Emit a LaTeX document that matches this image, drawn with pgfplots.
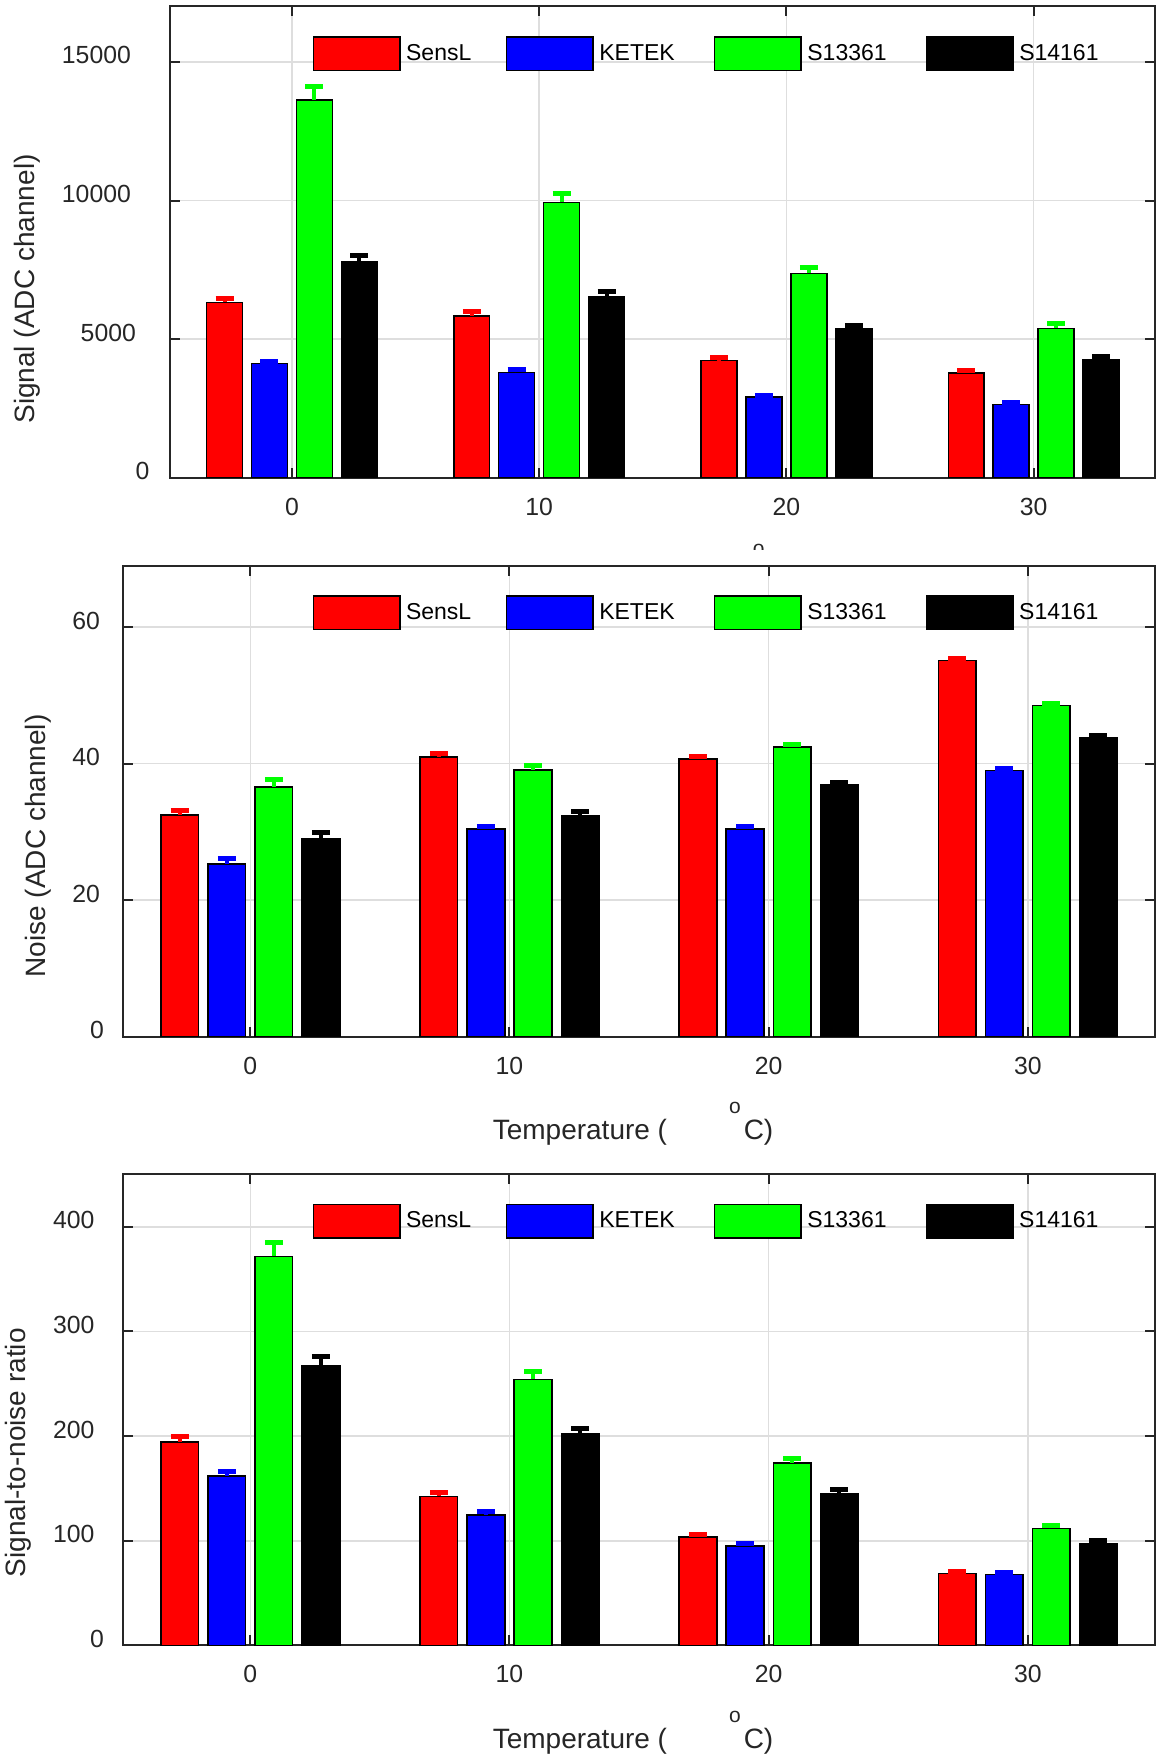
\documentclass[border=0pt]{standalone}
\usepackage{fontspec}
\setmainfont{Liberation Sans}
\usepackage{pgfplots}
\usepackage{pgfplotstable}
\pgfplotsset{compat=1.18}

\definecolor{axgray}{gray}{0.15}
\definecolor{gridgray}{gray}{0.87}
\definecolor{mred}{rgb}{1,0,0}
\definecolor{mblue}{rgb}{0,0,1}
\definecolor{mgreen}{rgb}{0,1,0}

% T, value and error for each SiPM
\pgfplotstableread{
T  sensl sensle ketek keteke s13   s13e s14  s14e
0  6330  140    4115  90     13620 480  7775 245
10 5830  155    3805  90     9930  310  6525 190
20 4230  100    2915  60     7375  220  5365 130
30 3780  100    2645  60     5390  170  4270 115
}\signal

\pgfplotstableread{
T  sensl sensle ketek keteke s13   s13e s14  s14e
0  32.5  0.70   25.3  0.75   36.6  1.04 29.0 0.92
10 40.95 0.47   30.4  0.47   39.1  0.69 32.4 0.63
20 40.7  0.41   30.4  0.47   42.45 0.41 36.9 0.41
30 55.1  0.25   39.0  0.30   48.5  0.37 43.8 0.30
}\noise

\pgfplotstableread{
T  sensl sensle ketek keteke s13   s13e s14   s14e
0  194.6 4.9    161.8 4.2    371.8 13.3 267.7 8.6
10 142.4 3.8    124.9 3.2    254.2 7.8  201.9 5.6
20 103.7 2.7    95.3  2.4    174.2 4.6  145.3 3.8
30 68.6  2.0    67.6  2.0    111.8 3.1  97.5  2.7
}\snr

\newcommand{\templabel}{Temperature (\hspace{31pt}\raisebox{13pt}{\fontsize{10.5}{12}\selectfont o}\hspace{1.5pt}C)}

\pgfplotsset{
  panel/.style={
    scale only axis, anchor=south west,
    xmin=-4.92, xmax=34.92, xtick={0,10,20,30},
    ymin=0,
    tick align=inside, tick pos=both, major tick length=5pt,
    axis line style={draw=axgray, line width=1pt},
    every tick/.style={draw=axgray, line width=1pt},
    grid=major, major grid style={draw=gridgray, line width=0.8pt},
    ticklabel style={font=\fontsize{12.4}{14}\selectfont, text=axgray, inner sep=0pt},
    xticklabel style={anchor=base, yshift=-18.7pt},
    label style={font=\fontsize{14}{16}\selectfont, text=axgray},
    xlabel style={at={(axis description cs:0.5,0)}, anchor=base, yshift=-51.6pt, xshift=-3pt},
    /pgf/number format/assume math mode=true,
    /pgf/number format/1000 sep={},
    scaled y ticks=false,
    legend style={draw=none, fill=none, inner sep=0pt, outer sep=0pt,
      anchor=north west, legend columns=4,
      font=\fontsize{11.5}{13}\selectfont, text=black,
      nodes={inner sep=0pt},
      /tikz/every odd column/.append style={column sep=2.7pt},
      /tikz/column 2/.style={column sep=17.3pt},
      /tikz/column 4/.style={column sep=19.6pt},
      /tikz/column 6/.style={column sep=19.6pt}},
  },
  sbar/.style n args={2}{ybar, bar width=1.4545, bar shift=#1, fill=#2, draw=black, line width=0.75pt,
    legend image code/.code={\draw[##1,draw=black,line width=0.75pt] (0pt,-8.4pt) rectangle (43.25pt,8.4pt);}},
  ebar/.style={forget plot, draw=none, mark=none,
    error bars/.cd, y dir=plus, y explicit,
    error bar style={line width=2pt, draw=#1, solid},
    error mark options={rotate=90, line width=2.5pt, mark size=4.5pt, draw=#1}},
}

% bars and error bars of one table
\newcommand{\groupbars}[1]{%
\addplot[sbar={-2.727}{mred}] table[x=T, y=sensl] {#1};
\addplot[sbar={-0.909}{mblue}] table[x=T, y=ketek] {#1};
\addplot[sbar={0.909}{mgreen}] table[x=T, y=s13] {#1};
\addplot[sbar={2.727}{black}] table[x=T, y=s14] {#1};
\addplot[ebar=mred] table[x expr=\thisrow{T}-2.727, y=sensl, y error=sensle] {#1};
\addplot[ebar=mblue] table[x expr=\thisrow{T}-0.909, y=ketek, y error=keteke] {#1};
\addplot[ebar=mgreen] table[x expr=\thisrow{T}+0.909, y=s13, y error=s13e] {#1};
\addplot[ebar=black] table[x expr=\thisrow{T}+2.727, y=s14, y error=s14e] {#1};
\legend{SensL,KETEK,S13361,S14161}}

\begin{document}
\begin{tikzpicture}
\path[use as bounding box] (0,0) rectangle (581pt,879.5pt);

% top: signal
\begin{axis}[panel, at={(85.15pt,640.55pt)}, width=492.5pt, height=235.75pt,
  ymax=17000, ytick={0,5000,10000,15000},
  yticklabels={{0\hspace*{-7.5pt}},5000,{10000\hspace*{2.5pt}},{15000\hspace*{2.5pt}}},
  yticklabel style={anchor=base east, xshift=-17pt, yshift=-1pt},
  ylabel={Signal (ADC channel)},
  ylabel style={at={(axis description cs:-0.1455,0.4006)}, anchor=center},
  xlabel={\templabel},
  legend style={at={(0.1446,0.9364)}}]
\groupbars{\signal}
\end{axis}

\fill[white] (0pt,361.1pt) rectangle (581pt,604.5pt);

% middle: noise
\begin{axis}[panel, at={(61.4pt,361.1pt)}, width=516.25pt, height=235.55pt,
  ymax=69, ytick={0,20,40,60},
  yticklabels={{0\hspace*{-1.9pt}},20,40,60},
  yticklabel style={anchor=base east, xshift=-11.2pt, yshift=-1pt},
  ylabel={Noise (ADC channel)},
  ylabel style={at={(axis description cs:-0.0818,0.405)}, anchor=center},
  xlabel={\templabel},
  legend style={at={(0.1839,0.9374)}}]
\groupbars{\noise}
\end{axis}

% bottom: signal-to-noise ratio
\begin{axis}[panel, at={(61.4pt,56.75pt)}, width=516.25pt, height=235.5pt,
  ymax=450, ytick={0,100,200,300,400},
  yticklabels={{0\hspace*{-4.7pt}},100,200,300,400},
  yticklabel style={anchor=base east, xshift=-14pt, yshift=-1pt},
  ylabel={Signal-to-noise ratio},
  ylabel style={at={(axis description cs:-0.1017,0.409)}, anchor=center},
  xlabel={\templabel},
  legend style={at={(0.1839,0.9376)}}]
\groupbars{\snr}
\end{axis}
\end{tikzpicture}
\end{document}
